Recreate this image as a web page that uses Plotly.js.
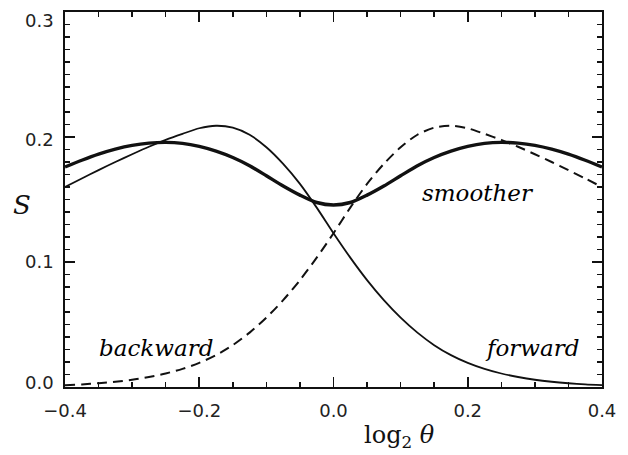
<!DOCTYPE html>
<html>
<head>
<meta charset="utf-8">
<script src="https://cdn.plot.ly/plotly-3.0.1.min.js"></script>
<style>
  html, body { margin: 0; padding: 0; background: #fff; }
  #chart { width: 628px; height: 455px; }
</style>
</head>
<body>
<div id="chart"></div>
<script>
// log2(theta) sample positions
const logTheta = [-0.400, -0.375, -0.350, -0.325, -0.300, -0.275, -0.250, -0.225, -0.200, -0.175, -0.150,
                  -0.125, -0.100, -0.075, -0.050, -0.025, 0.000, 0.025, 0.050, 0.075, 0.100, 0.125,
                  0.150, 0.175, 0.200, 0.225, 0.250, 0.275, 0.300, 0.325, 0.350, 0.375, 0.400];

// forward scheme
const forwardS = [0.160, 0.1668, 0.1735, 0.180, 0.1862, 0.1922, 0.1977, 0.2025, 0.2070, 0.2090, 0.2075,
                  0.2018, 0.1918, 0.1785, 0.1625, 0.1435, 0.1230, 0.1035, 0.0855, 0.0695, 0.0555, 0.0435,
                  0.0335, 0.0255, 0.0193, 0.0145, 0.0108, 0.0080, 0.0058, 0.0042, 0.0030, 0.0021, 0.0015];

// backward scheme
const backwardS = [0.0015, 0.0021, 0.0030, 0.0042, 0.0058, 0.0080, 0.0108, 0.0145, 0.0193, 0.0255, 0.0335,
                   0.0435, 0.0555, 0.0695, 0.0855, 0.1035, 0.1230, 0.1435, 0.1625, 0.1785, 0.1918, 0.2018,
                   0.2075, 0.2090, 0.2070, 0.2025, 0.1977, 0.1922, 0.1862, 0.180, 0.1735, 0.1668, 0.160];

// smoother scheme
const smootherS = [0.1760, 0.1814, 0.1863, 0.1903, 0.1933, 0.1951, 0.1957, 0.1949, 0.1925, 0.1887, 0.1836,
                   0.1770, 0.1690, 0.1608, 0.1535, 0.1476, 0.1456, 0.1476, 0.1535, 0.1608, 0.1690, 0.1770,
                   0.1836, 0.1887, 0.1925, 0.1949, 0.1957, 0.1951, 0.1933, 0.1903, 0.1863, 0.1814, 0.1760];

// axis ticks
const xTickVals = [-0.4, -0.2, 0.0, 0.2, 0.4];
const xTickText = ['\u22120.4', '\u22120.2', '0.0', '0.2', '0.4'];
const yTickVals = [0.0, 0.1, 0.2, 0.3];
const yTickText = ['0.0', '0.1', '0.2', '0.3'];
// labels at the frame ends are nudged inward so they do not collide
const yTickNudge = [5, 1, -2, -8];

// curve labels
const curveLabels = ['backward', 'forward', 'smoother'];
const labelX = [-0.264, 0.296, 0.216];
const labelY = [0.031, 0.031, 0.155];

const ink = '#111';
const serif = '"DejaVu Serif", "Liberation Serif", serif';
const sans = '"DejaVu Sans", "Liberation Sans", sans-serif';

const traces = [
  { x: logTheta, y: forwardS, mode: 'lines', line: { color: ink, width: 1.8, shape: 'spline', smoothing: 0.8 }, name: 'forward' },
  { x: logTheta, y: backwardS, mode: 'lines', line: { color: ink, width: 2, dash: '10px,6px', shape: 'spline', smoothing: 0.8 }, name: 'backward' },
  { x: logTheta, y: smootherS, mode: 'lines', line: { color: ink, width: 3.4, shape: 'spline', smoothing: 0.8 }, name: 'smoother' }
];

const annotations = curveLabels.map((t, i) => ({
  x: labelX[i], y: labelY[i], xref: 'x', yref: 'y', text: '<i>' + t + '</i>',
  showarrow: false, font: { family: serif, size: 23, color: '#000' }
}));
yTickVals.forEach((v, i) => annotations.push({
  x: 0, y: v, xref: 'paper', yref: 'y', text: yTickText[i],
  xanchor: 'right', yanchor: 'middle', xshift: -9, yshift: yTickNudge[i],
  showarrow: false, font: { family: sans, size: 18, color: '#222' }
}));
annotations.push({
  x: 0.099, y: -0.133, xref: 'x', yref: 'paper', xanchor: 'center', yanchor: 'middle',
  text: 'log<sub>2</sub> <i>\u03b8</i>',
  showarrow: false, font: { family: serif, size: 24, color: ink }
});
annotations.push({
  x: -0.08, y: 0.485, xref: 'paper', yref: 'paper', xanchor: 'center', yanchor: 'middle',
  text: '<i>S</i>',
  showarrow: false, font: { family: serif, size: 26, color: ink }
});

const layout = {
  width: 628, height: 455,
  margin: { l: 65, r: 26, t: 12, b: 68 },
  paper_bgcolor: '#fff', plot_bgcolor: '#fff',
  showlegend: false,
  xaxis: {
    range: [-0.4, 0.4], showgrid: false, zeroline: false,
    showline: true, linecolor: ink, linewidth: 2, mirror: 'allticks',
    ticks: 'inside', ticklen: 10, tickwidth: 1.6, tickcolor: ink,
    tickvals: xTickVals, ticktext: xTickText, ticklabelstandoff: 6,
    tickfont: { family: sans, size: 18, color: '#222' },
    minor: { dtick: 0.05, tick0: 0, ticks: 'inside', ticklen: 5, tickwidth: 1.6, tickcolor: ink, showgrid: false }
  },
  yaxis: {
    range: [0, 0.3], showgrid: false, zeroline: false,
    showline: true, linecolor: ink, linewidth: 2, mirror: 'allticks',
    ticks: 'inside', ticklen: 10, tickwidth: 1.6, tickcolor: ink,
    tickvals: yTickVals, showticklabels: false,
    minor: { dtick: 0.01, tick0: 0, ticks: 'inside', ticklen: 5, tickwidth: 1.6, tickcolor: ink, showgrid: false }
  },
  annotations: annotations
};

Plotly.newPlot('chart', traces, layout, { staticPlot: true, displayModeBar: false });
</script>
</body>
</html>
